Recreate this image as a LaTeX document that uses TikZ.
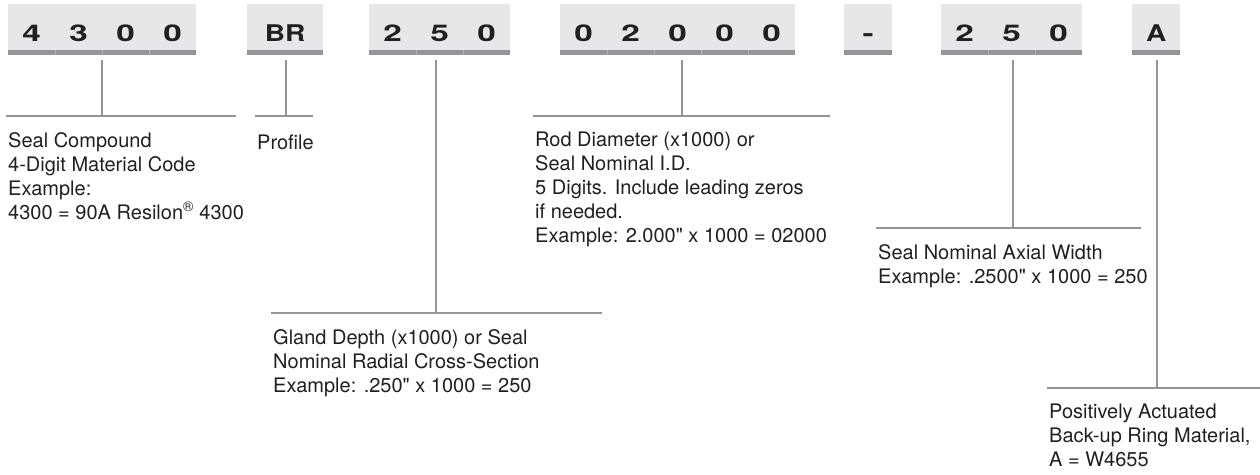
\documentclass[tikz,border=0pt]{standalone}
\usepackage{graphicx}
\usepackage{fontspec}
\setmainfont{TeX Gyre Heros}
\usetikzlibrary{calc}

\definecolor{boxfill}{HTML}{E6E7E8}
\definecolor{bargrey}{HTML}{939598}
\definecolor{tickgrey}{HTML}{B4B6B8}
\definecolor{inkgrey}{HTML}{231F20}

\newcommand\widedigit[1]{\scalebox{1.45}[1]{#1}}
\newcommand\wideletter[1]{\scalebox{1.22}[1]{#1}}
\newcommand\cells[1]{\foreach \c in {#1}{\makebox[47pt]{\widedigit{\c}}}}

\tikzset{
  grp/.style={anchor=north west, fill=boxfill, inner sep=0pt, minimum height=46pt,
    text height=28pt, text depth=0pt, text=inkgrey,
    font=\fontsize{23}{23}\selectfont\bfseries},
  lbl/.style={anchor=north west, inner xsep=2pt, inner ysep=0pt, align=left,
    text=inkgrey, font=\fontsize{20}{24}\selectfont,
    execute at begin node={\rule{0pt}{17pt}}},
  link/.style={draw=bargrey, line width=1.8pt},
  tickline/.style={draw=tickgrey, line width=0.8pt},
}

\begin{document}
\begin{tikzpicture}[x=1pt,y=-1pt]
  \useasboundingbox (0,0) rectangle (1260,474);

  % Code groups
  \node[grp, minimum width=188pt] (g4300) at (8,4) {\cells{4,3,0,0}};
  \node[grp, minimum width=76pt] (gBR) at (247,4) {\wideletter{BR}};
  \node[grp, minimum width=141pt] (g250) at (369,4) {\cells{2,5,0}};
  \node[grp, minimum width=235pt] (g02000) at (560,4) {\cells{0,2,0,0,0}};
  \node[grp, minimum width=48pt] (gdash) at (844,4) {\widedigit{-}};
  \node[grp, minimum width=141pt] (g250b) at (941,4) {\cells{2,5,0}};
  \node[grp, minimum width=48pt] (gA) at (1132,4) {\wideletter{A}};

  % Bars under the groups
  \foreach \g in {g4300,gBR,g250,g02000,gdash,g250b,gA}
    \fill[bargrey] (\g.south west) rectangle ([yshift=-5pt]\g.south east);
  \foreach \g/\k in {g4300/{1,2,3}, g250/{1,2}, g02000/{1,2,3,4}, g250b/{1,2}}
    \foreach \i in \k
      \draw[tickline] ([xshift=\i*47pt]\g.south west) -- ++(0,5);

  % Descriptions
  \node[lbl] (tCompound) at (6,132) {Seal Compound\\4-Digit Material Code\\Example:\\4300 = 90A Resilon\textsuperscript{\textregistered} 4300};
  \node[lbl] (tProfile) at (255,132) {Profile};
  \node[lbl] (tGland) at (271,329) {Gland Depth (x1000) or Seal\\Nominal Radial Cross-Section\\Example: .250\textquotedbl{} x 1000 = 250};
  \node[lbl] (tRod) at (533,132) {Rod Diameter (x1000) or\\Seal Nominal I.D.\\5 Digits. Include leading zeros\\if needed.\\Example: 2.000\textquotedbl{} x 1000 = 02000};
  \node[lbl] (tAxial) at (876,244) {Seal Nominal Axial Width\\Example: .2500\textquotedbl{} x 1000 = 250};
  \node[lbl] (tActuated) at (1047,404) {Positively Actuated\\Back-up Ring Material,\\A = W4655};

  % Connectors
  \foreach \g/\t/\dx/\w in {g4300/tCompound/0/230, gBR/tProfile/1/58, g250/tGland/-4/331,
      g02000/tRod/4.5/297, g250b/tAxial/1/265, gA/tActuated/1/213}
    \draw[link] let \p1=(\g.south), \p2=(\t.north west) in
      (\x1+\dx pt,\y1-10pt) -- (\x1+\dx pt,\y2+16pt)
      (\x2,\y2+16pt) -- ++(\w,0);
\end{tikzpicture}
\end{document}
